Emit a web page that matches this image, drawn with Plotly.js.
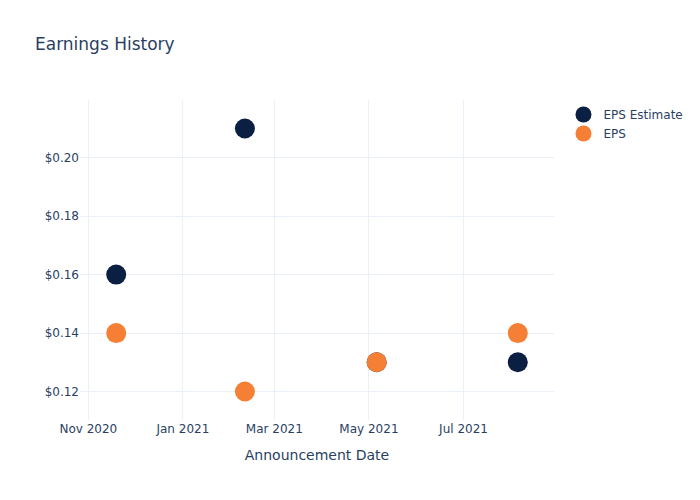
<!DOCTYPE html>
<html>
<head>
<meta charset="utf-8">
<script src="https://cdn.plot.ly/plotly-3.0.1.min.js"></script>
<style>html,body{margin:0;padding:0;background:#fff;}#chart{width:700px;height:500px;}</style>
</head>
<body>
<div id="chart"></div>
<script>
const dates = ["2020-11-19", "2021-02-10", "2021-05-06", "2021-08-05"];
const epsEstimate = [0.16, 0.21, 0.13, 0.13];
const epsActual = [0.14, 0.12, 0.13, 0.14];
const seriesNames = ["EPS Estimate", "EPS"];
const seriesColors = ["#0b1f42", "#f57f35"];

const traces = [
  {x: dates, y: epsEstimate, name: seriesNames[0], type: "scatter", mode: "markers",
   marker: {color: seriesColors[0], size: 20}},
  {x: dates, y: epsActual, name: seriesNames[1], type: "scatter", mode: "markers",
   marker: {color: seriesColors[1], size: 20}}
];

const layout = {
  width: 700, height: 500,
  font: {family: "DejaVu Sans, sans-serif", color: "#2a3f5f", size: 12},
  paper_bgcolor: "#fff", plot_bgcolor: "#fff",
  title: {text: "Earnings History", x: 0.05, font: {size: 17}},
  xaxis: {title: {text: "Announcement Date", font: {size: 14}, standoff: 15}, automargin: true,
          gridcolor: "#EBF0F8", zeroline: false, tickformat: "%b %Y", dtick: "M2"},
  yaxis: {tickformat: "$.2f", gridcolor: "#EBF0F8", zeroline: false, automargin: true},
  showlegend: true,
  legend: {font: {size: 12}}
};

Plotly.newPlot("chart", traces, layout, {displayModeBar: false});
</script>
</body>
</html>
